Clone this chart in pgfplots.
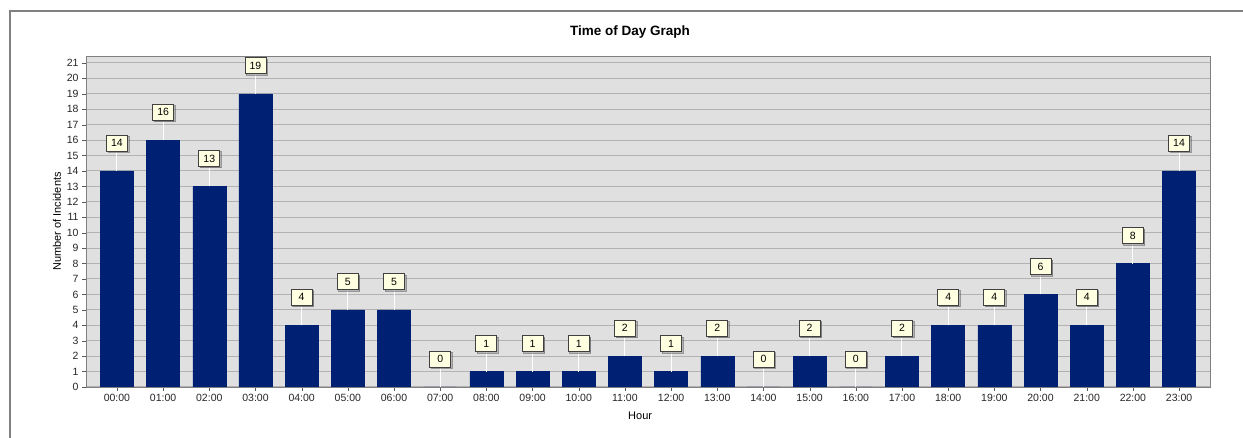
\documentclass[border=0pt]{standalone}
\usepackage{pgfplots}
\pgfplotsset{compat=1.18}
\usepackage{fontspec}
\setmainfont{Liberation Sans}
\usetikzlibrary{shadows}
\definecolor{barc}{RGB}{0,33,115}
\definecolor{bgc}{RGB}{224,224,224}
\definecolor{gridc}{RGB}{178,178,178}
\definecolor{ivoryc}{RGB}{255,255,226}
\begin{document}
\begin{tikzpicture}
\useasboundingbox (-86pt,-51pt) rectangle (1157pt,387pt);
\fill[white] (-86pt,-51pt) rectangle (1157pt,387pt);
\draw[gray, line width=2.5pt] (-76pt,-52pt) -- (-76pt,376pt) -- (1158pt,376pt);
\begin{axis}[
  at={(0,0)}, anchor=south west, scale only axis,
  width=1124pt, height=331pt,
  ybar, bar width=33pt,
  xmin=-0.67, xmax=23.67, ymin=0, ymax=21.45,
  xtick=data,
  xticklabels={00:00,01:00,02:00,03:00,04:00,05:00,06:00,07:00,08:00,09:00,10:00,11:00,12:00,13:00,14:00,15:00,16:00,17:00,18:00,19:00,20:00,21:00,22:00,23:00},
  ytick={0,...,21},
  xtick pos=bottom, ytick pos=left,
  ymajorgrids, grid style={gridc, line width=1pt},
  axis background/.style={fill=bgc},
  axis line style={gray},
  tick align=outside, major tick length=4pt, tick style={gray!70!black},
  ticklabel style={font=\fontsize{10.5}{12}\selectfont, text=black!85},
  /pgf/number format/assume math mode=true,
  xlabel={Hour}, ylabel={Number of Incidents},
  xlabel style={at={(axis description cs:0.493,-0.0876)}, anchor=center, font=\fontsize{11}{13}\selectfont},
  ylabel style={at={(axis description cs:-0.0258,0.5)}, anchor=center, font=\fontsize{11}{13}\selectfont},
  title={Time of Day Graph},
  title style={at={(axis description cs:0.484,1.054)}, anchor=center, font=\bfseries\fontsize{13.5}{15}\selectfont},
  nodes near coords,
  nodes near coords style={anchor=center, yshift=28pt, draw=black!75, line width=0.8pt, fill=ivoryc, text=black,
    font=\fontsize{10.5}{12}\selectfont, inner sep=2pt, minimum width=21pt, minimum height=16pt,
    drop shadow={shadow xshift=1.5pt, shadow yshift=-1.5pt, opacity=0.45}},
]
\addplot[fill=barc, draw=barc,
  error bars/.cd, y dir=plus, y fixed=1.3, error mark=none,
  error bar style={white, line width=1pt}]
coordinates {
(0,14) (1,16) (2,13) (3,19) (4,4) (5,5) (6,5) (7,0) (8,1) (9,1) (10,1) (11,2)
(12,1) (13,2) (14,0) (15,2) (16,0) (17,2) (18,4) (19,4) (20,6) (21,4) (22,8) (23,14)
};
\end{axis}
\end{tikzpicture}
\end{document}
